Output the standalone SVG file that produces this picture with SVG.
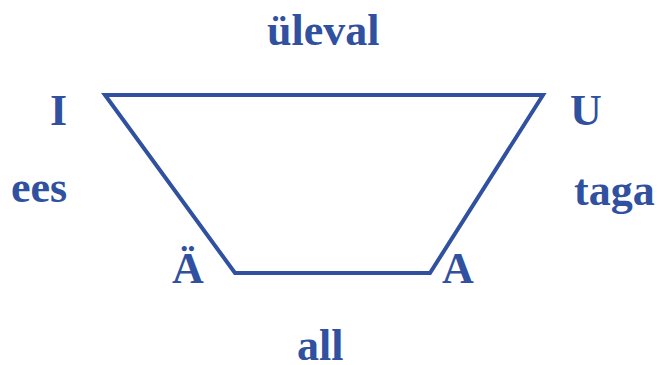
<svg xmlns="http://www.w3.org/2000/svg" width="659" height="365" viewBox="0 0 659 365">
<style>
.t{font-family:"Liberation Serif","Times New Roman",serif;font-weight:bold;font-size:44px;fill:#3050A0}
.e{fill:none;stroke:#3050A0;stroke-width:4;stroke-linejoin:miter}
</style>
<rect width="659" height="365" fill="#fff"/>
<g id="connectors">
<path class="e" d="M105,95 L543,95 L430,273 L235,273 Z"/>
</g>
<g id="n-uleval"><text class="t" x="267" y="45">üleval</text></g>
<g id="n-I"><text class="t" x="50" y="125">I</text></g>
<g id="n-U"><text class="t" x="570" y="125">U</text></g>
<g id="n-ees"><text class="t" x="11" y="202">ees</text></g>
<g id="n-taga"><text class="t" x="574" y="205">taga</text></g>
<g id="n-AE"><text class="t" x="172" y="283">Ä</text></g>
<g id="n-A"><text class="t" x="442" y="283">A</text></g>
<g id="n-all"><text class="t" x="297" y="360">all</text></g>
</svg>
